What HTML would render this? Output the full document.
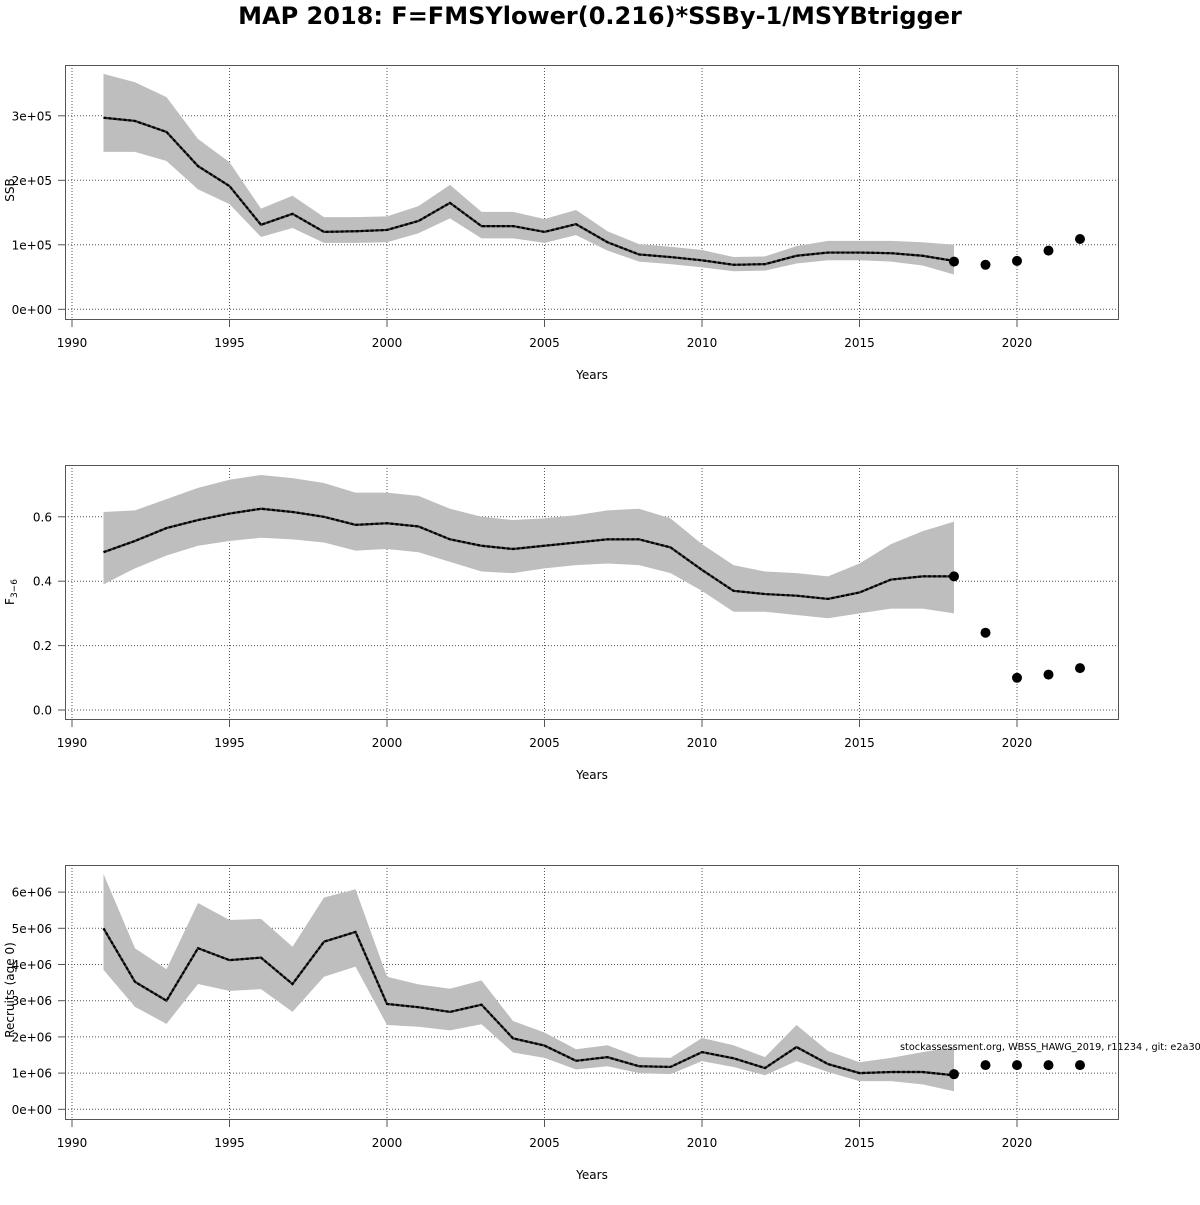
<!DOCTYPE html>
<html><head><meta charset="utf-8"><style>
body{margin:0;background:#fff;width:1200px;height:1200px;overflow:hidden}
svg{font-family:"DejaVu Sans","Liberation Sans",sans-serif}
</style></head><body>
<svg id="fig" width="1200" height="1200" viewBox="0 0 1200 1200">
<text x="600" y="24" text-anchor="middle" font-size="24" font-weight="bold">MAP 2018: F=FMSYlower(0.216)*SSBy-1/MSYBtrigger</text>
</svg>
<script>
const years=[1991,1992,1993,1994,1995,1996,1997,1998,1999,2000,2001,2002,2003,2004,2005,2006,2007,2008,2009,2010,2011,2012,2013,2014,2015,2016,2017,2018];
const ssbMid=[297,292,275,222,191,131,148,120,121,123,137,165,129,129,120,132,104,85,81,76,69,70,83,88,88,87,83,75];
const ssbHi=[365,352,329,264,228,156,176,143,143,144,160,193,151,151,140,154,121,101,97,92,81,82,98,106,106,106,104,100];
const ssbLo=[244,244,230,186,163,112,126,103,103,104,118,141,110,110,103,115,91,74,70,65,59,60,71,76,76,74,68,54];
const fMid=[0.49,0.525,0.565,0.59,0.61,0.625,0.615,0.60,0.575,0.58,0.57,0.53,0.51,0.50,0.51,0.52,0.53,0.53,0.505,0.435,0.37,0.36,0.355,0.345,0.365,0.405,0.415,0.415];
const fHi=[0.615,0.62,0.655,0.69,0.715,0.73,0.72,0.705,0.675,0.675,0.665,0.625,0.60,0.59,0.595,0.605,0.62,0.625,0.595,0.515,0.45,0.43,0.425,0.415,0.455,0.515,0.555,0.585];
const fLo=[0.39,0.44,0.48,0.51,0.525,0.535,0.53,0.52,0.495,0.50,0.49,0.46,0.43,0.425,0.44,0.45,0.455,0.45,0.425,0.37,0.305,0.305,0.295,0.285,0.30,0.315,0.315,0.30];
const recMid=[5.0,3.52,3.0,4.45,4.12,4.19,3.46,4.63,4.9,2.91,2.82,2.69,2.89,1.96,1.76,1.34,1.44,1.19,1.17,1.58,1.41,1.14,1.72,1.25,1.0,1.03,1.03,0.94];
const recHi=[6.5,4.45,3.87,5.7,5.23,5.26,4.49,5.85,6.08,3.66,3.45,3.33,3.56,2.44,2.12,1.66,1.77,1.44,1.42,1.97,1.77,1.44,2.33,1.61,1.3,1.42,1.58,1.72];
const recLo=[3.85,2.83,2.36,3.46,3.27,3.32,2.69,3.66,3.94,2.33,2.28,2.18,2.35,1.57,1.42,1.1,1.19,1.0,0.97,1.33,1.17,0.94,1.33,1.03,0.78,0.78,0.69,0.5];
const fcYears=[2018,2019,2020,2021,2022];
const ssbFc=[74,69,75,91,109];
const fFc=[0.415,0.24,0.10,0.11,0.13];
const recFc=[0.97,1.22,1.22,1.22,1.22];
const xTicks=[1990,1995,2000,2005,2010,2015,2020];
const ssbTicks=[0,100,200,300];const ssbLabels=["0e+00","1e+05","2e+05","3e+05"];
const fTicks=[0,0.2,0.4,0.6];const fLabels=["0.0","0.2","0.4","0.6"];
const recTicks=[0,1,2,3,4,5,6];const recLabels=["0e+00","1e+06","2e+06","3e+06","4e+06","5e+06","6e+06"];

const svg=document.getElementById('fig');const NS='http://www.w3.org/2000/svg';
function mk(t,a,p){const e=document.createElementNS(NS,t);for(const k in a)e.setAttribute(k,a[k]);(p||svg).appendChild(e);return e;}
const X=y=>72+(y-1990)*31.5;
function panel(name,top,y0,scale,mid,hi,lo,fc,ticks,labels,ylab,sub){
  const Y=v=>y0-v*scale;
  const g=mk('g',{});
  
  
  xTicks.forEach(t=>{const l=mk('line',{x1:X(t),x2:X(t),y1:top,y2:top+254,stroke:'#555','stroke-dasharray':'1,2','stroke-width':1},g);
    });
  ticks.forEach(t=>{const l=mk('line',{x1:65,x2:1119,y1:Y(t),y2:Y(t),stroke:'#555','stroke-dasharray':'1,2','stroke-width':1},g);
    });
  let pts=years.map((y,i)=>X(y)+','+Y(hi[i]));
  for(let i=years.length-1;i>=0;i--)pts.push(X(years[i])+','+Y(lo[i]));
  const band=mk('polygon',{points:pts.join(' '),fill:'#bebebe',stroke:'none'},g);
  
  const lp=years.map((y,i)=>X(y)+','+Y(mid[i])).join(' ');
  const base=mk('polyline',{points:lp,fill:'none',stroke:'#333','stroke-width':2.2},g);
  
  const line=mk('polyline',{points:lp,fill:'none',stroke:'#000','stroke-width':2.2,'stroke-dasharray':'3,2'},g);
  
  fcYears.forEach((y,i)=>{const c=mk('circle',{cx:X(y),cy:Y(fc[i]),r:5,fill:'#000'},g);
    });
  const box=mk('rect',{x:65.5,y:top+0.5,width:1053,height:254,fill:'none',stroke:'#555','stroke-width':1},g);
  
  xTicks.forEach(t=>{mk('line',{x1:X(t),x2:X(t),y1:top+254,y2:top+262,stroke:'#555'},g);
    const tx=mk('text',{x:X(t),y:top+282,'text-anchor':'middle','font-size':12},g);tx.textContent=t;
    });
  ticks.forEach((t,i)=>{mk('line',{x1:58,x2:65,y1:Y(t),y2:Y(t),stroke:'#555'},g);
    const tx=mk('text',{x:52,y:Y(t)+4.5,'text-anchor':'end','font-size':12},g);tx.textContent=labels[i];
    });
  const xl=mk('text',{x:592,y:top+314,'text-anchor':'middle','font-size':12},g);xl.textContent='Years';
  
  const yl=mk('text',{x:0,y:0,'text-anchor':'middle','font-size':12,transform:`translate(14,${ylab[1]}) rotate(-90)`},g);
  yl.textContent=ylab[0];
  if(sub){const s=mk('tspan',{'font-size':9,dy:3},yl);s.textContent=sub;}
  
}
panel('ssb',65,309.3,0.645,ssbMid,ssbHi,ssbLo,ssbFc,ssbTicks,ssbLabels,['SSB',190]);
panel('f',465,710,322,fMid,fHi,fLo,fFc,fTicks,fLabels,['F',592],'3−6');
panel('recruits',865,1109.3,36.2,recMid,recHi,recLo,recFc,recTicks,recLabels,['Recruits (age 0)',990]);
const note=mk('text',{x:900,y:1050,'font-size':9.7});
note.textContent='stockassessment.org, WBSS_HAWG_2019, r11234 , git: e2a30';


</script>
</body></html>
